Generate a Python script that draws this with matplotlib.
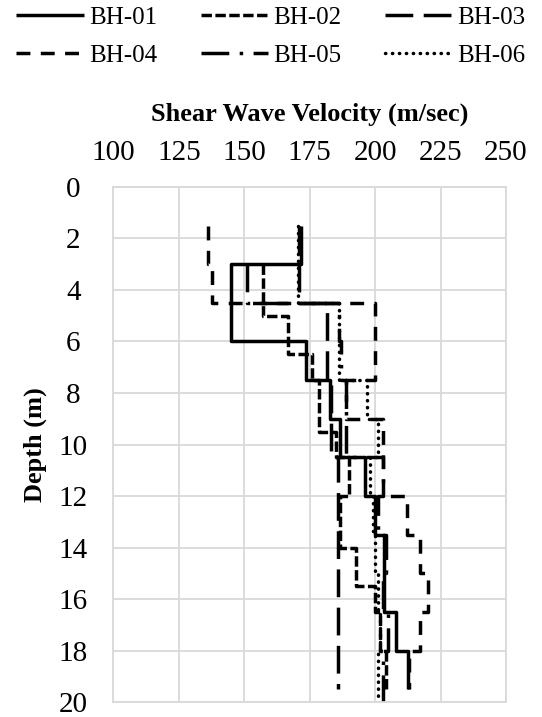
import numpy as np
import matplotlib
matplotlib.use("Agg")
import matplotlib.pyplot as plt

# layer tops (m), bottom depth (m) and shear wave velocity (m/sec) per borehole
bh01_top = [1.5, 3, 6, 7.5, 9, 10.5, 12, 13.5, 16.5, 18]
bh01_bot = 19.5
bh01_vs = [171.6, 145, 173.7, 182.6, 186.5, 196, 200, 203.5, 208, 212.5]

bh02_top = [3, 5, 6.5, 7.5, 9.5, 10.5, 12, 14, 15.5, 16.5, 18]
bh02_bot = 19.5
bh02_vs = [157, 166.5, 176, 178.5, 185, 190, 186.5, 192.5, 200, 202, 204]

bh03_top = [1.5, 4.5, 7.5, 10.5]
bh03_bot = 19.5
bh03_vs = [171, 181.4, 183, 185.8]

bh04_top = [1.5, 3, 4.5, 7.5, 9, 12, 13.5, 15, 16.5, 18]
bh04_bot = 19.5
bh04_vs = [136, 137.5, 200, 189, 203, 212, 217, 220, 217, 213]

bh05_top = [3, 4.5, 6, 7.5, 10.5, 12, 13.5, 15, 16.5, 18]
bh05_bot = 20
bh05_vs = [151, 186, 187, 189, 203, 201, 204, 203, 205, 203]

bh06_top = [1.5, 4.5, 7.5, 9, 10.5, 12, 13.5, 15, 16.5, 18]
bh06_bot = 20
bh06_vs = [170.5, 186, 197, 201, 198, 199, 200, 201, 202, 201]

names = ["BH-01", "BH-02", "BH-03", "BH-04", "BH-05", "BH-06"]
tops = [bh01_top, bh02_top, bh03_top, bh04_top, bh05_top, bh06_top]
bots = [bh01_bot, bh02_bot, bh03_bot, bh04_bot, bh05_bot, bh06_bot]
vels = [bh01_vs, bh02_vs, bh03_vs, bh04_vs, bh05_vs, bh06_vs]
dash_styles = [None, (3, 1), (8, 3), (4, 3), (8, 3, 1, 3), (0.1, 1.9)]

plt.rcParams['font.family'] = ['Liberation Serif', 'DejaVu Serif']

fig = plt.figure(figsize=(5.42, 7.17), dpi=100)
ax = fig.add_axes([0.2094, 0.0209, 0.7242, 0.7183])

handles = []
for name, top, bot, vs, ds in zip(names, tops, bots, vels, dash_styles):
    # step profile: each layer is a vertical segment from its top to the next top
    depth = np.repeat(list(top) + [bot], 2)[1:-1]
    vel = np.repeat(vs, 2)
    dotted = ds == (0.1, 1.9)
    line, = ax.plot(vel, depth, color='black', lw=2.5, label=name,
                    solid_capstyle='butt', dash_capstyle='round' if dotted else 'butt')
    if ds is not None:
        line.set_dashes(ds)
    handles.append(line)

ax.set_xlim(100, 250)
ax.set_ylim(20, 0)
ax.set_xticks(np.arange(100, 251, 25))
ax.set_yticks(np.arange(0, 21, 2))
ax.xaxis.tick_top()
ax.xaxis.set_label_position('top')
ax.tick_params(axis='both', length=0, labelsize=21)
ax.tick_params(axis='x', pad=15)
ax.tick_params(axis='y', pad=29)
for lab in ax.get_yticklabels():
    lab.set_horizontalalignment('center')
ax.grid(True, color='#d9d9d9', lw=1.3)
for s in ax.spines.values():
    s.set_color('#d9d9d9')
    s.set_linewidth(1.3)
ax.set_xlabel('Shear Wave Velocity (m/sec)', fontsize=19, fontweight='bold', labelpad=14)
ax.set_ylabel('Depth (m)', fontsize=19, fontweight='bold', labelpad=8)

# legend fills row by row in the reference: 01 02 03 / 04 05 06
order = [0, 3, 1, 4, 2, 5]
fig.legend([handles[i] for i in order], [names[i] for i in order], ncol=3,
           loc='upper center', bbox_to_anchor=(0.5, 1.022),
           frameon=False, fontsize=18, handlelength=2.7, handletextpad=0.2,
           columnspacing=1.75, labelspacing=0.6)

fig.savefig('out.png', dpi=100)
